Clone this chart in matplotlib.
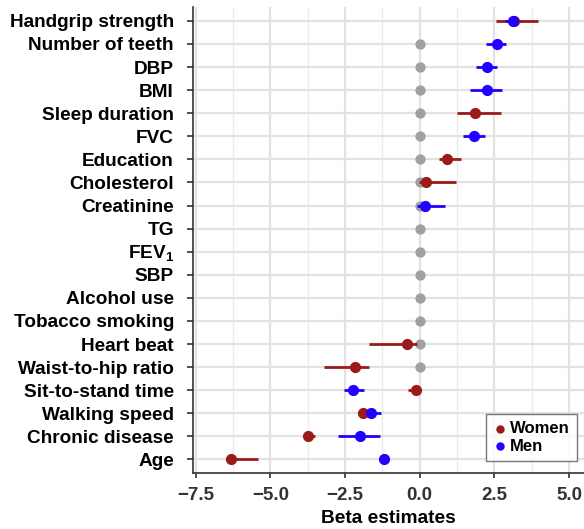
import matplotlib
matplotlib.use("Agg")
import matplotlib.pyplot as plt
import numpy as np

plt.rcParams['font.family'] = ['Liberation Sans', 'DejaVu Sans']
plt.rcParams['mathtext.fontset'] = 'custom'
plt.rcParams['mathtext.bf'] = 'Liberation Sans:bold'
plt.rcParams['mathtext.rm'] = 'Liberation Sans:bold'

categories = ["Handgrip strength", "Number of teeth", "DBP", "BMI", "Sleep duration",
              "FVC", "Education", "Cholesterol", "Creatinine", "TG", r"FEV$_\mathbf{1}$",
              "SBP", "Alcohol use", "Tobacco smoking", "Heart beat", "Waist-to-hip ratio",
              "Sit-to-stand time", "Walking speed", "Chronic disease", "Age"]

# Women: (estimate, lower, upper); None = not significant (shown as grey at 0)
women_est = [3.15, None, None, None, 1.85, None, 0.90, 0.21, None, None, None,
             None, None, None, -0.43, -2.18, -0.11, -1.89, -3.73, -6.32]
women_lo = [2.55, None, None, None, 1.25, None, 0.65, -0.02, None, None, None,
            None, None, None, -1.69, -3.19, -0.38, -2.00, -3.81, -6.40]
women_hi = [3.96, None, None, None, 2.73, None, 1.39, 1.22, None, None, None,
            None, None, None, -0.08, -1.70, 0.00, -1.78, -3.50, -5.40]

men_est = [3.11, 2.59, 2.26, 2.24, None, 1.81, None, None, 0.16, None, None,
           None, None, None, None, None, -2.24, -1.63, -2.01, -1.21]
men_lo = [2.87, 2.23, 1.90, 1.67, None, 1.46, None, None, -0.10, None, None,
          None, None, None, None, None, -2.55, -1.82, -2.74, -1.36]
men_hi = [3.37, 2.89, 2.59, 2.74, None, 2.17, None, None, 0.83, None, None,
          None, None, None, None, None, -1.88, -1.31, -1.34, -1.07]

xticks = [-7.5, -5.0, -2.5, 0.0, 2.5, 5.0]
xticklabels = ["\u22127.5", "\u22125.0", "\u22122.5", "0.0", "2.5", "5.0"]

women_col = "#9B1B1B"
men_col = "#2200FF"
grey_col = "#A0A0A0"

fig = plt.figure(figsize=(5.84, 5.29), dpi=100)
ax = fig.add_axes([0.330, 0.1053, 0.670, 0.8815])

n = len(categories)
ypos = np.arange(n)

# grey zero points for non-significant entries
for i in range(n):
    if women_est[i] is None or men_est[i] is None:
        ax.scatter(0, ypos[i], s=55, color=grey_col, zorder=3, linewidths=0)

for est, lo, hi, col, lab in [(women_est, women_lo, women_hi, women_col, "Women"),
                               (men_est, men_lo, men_hi, men_col, "Men")]:
    first = True
    for i in range(n):
        if est[i] is None:
            continue
        ax.plot([lo[i], hi[i]], [ypos[i], ypos[i]], color=col, lw=2.0, zorder=4,
                solid_capstyle='butt')
        ax.scatter(est[i], ypos[i], s=65, color=col, zorder=5, linewidths=0,
                   label=lab if first else None)
        first = False

ax.set_xlim(-7.6, 5.5)
ax.set_ylim(n - 0.4, -0.6)
ax.set_yticks(ypos)
ax.set_yticklabels(categories, fontsize=13.7, fontweight='bold', color='black')
ax.set_xticks(xticks)
ax.set_xticklabels(xticklabels, fontsize=13.5, fontweight='bold', color='#333333')
ax.set_xticks([-6.25, -3.75, -1.25, 1.25, 3.75], minor=True)
ax.set_xlabel("Beta estimates", fontsize=13.8, fontweight='bold', color='black', labelpad=4)

ax.grid(True, which='major', color='#E2E2E2', lw=1.6, zorder=0)
ax.grid(True, which='minor', axis='x', color='#EBEBEB', lw=1.0, zorder=0)
ax.set_axisbelow(True)

for s in ['top', 'right']:
    ax.spines[s].set_visible(False)
for s in ['left', 'bottom']:
    ax.spines[s].set_color('#333333')
    ax.spines[s].set_linewidth(1.2)
ax.tick_params(axis='y', which='major', length=4, width=1.2, color='#333333', pad=9.5)
ax.tick_params(axis='x', which='major', length=3.5, width=1.2, color='#333333', pad=6.5)
ax.tick_params(axis='x', which='minor', length=0)

leg = ax.legend(loc='lower right', bbox_to_anchor=(0.995, 0.015), frameon=True, fancybox=False,
                prop={'weight': 'bold', 'size': 12}, handletextpad=0.2, borderpad=0.45,
                labelspacing=0.15, markerscale=0.75, handlelength=0.8, borderaxespad=0.3)
leg.get_frame().set_edgecolor('#555555')
leg.get_frame().set_linewidth(1.0)

fig.savefig("out.png", dpi=100)
